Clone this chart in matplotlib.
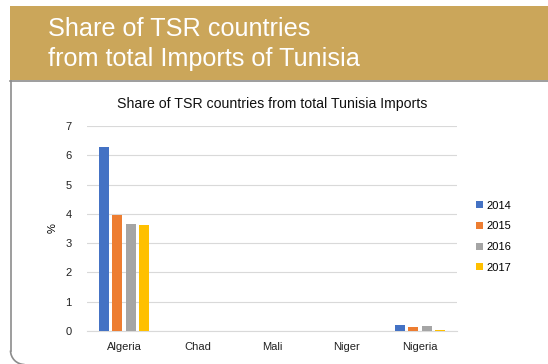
import matplotlib
matplotlib.use("Agg")
import matplotlib.pyplot as plt
import numpy as np
from matplotlib.patches import Rectangle, Arc

plt.rcParams['font.family'] = ['Liberation Sans', 'DejaVu Sans']

countries = ["Algeria", "Chad", "Mali", "Niger", "Nigeria"]
years = ["2014", "2015", "2016", "2017"]
share_2014 = [6.3, 0, 0, 0, 0.2]
share_2015 = [3.95, 0, 0, 0, 0.14]
share_2016 = [3.65, 0, 0, 0, 0.18]
share_2017 = [3.62, 0, 0, 0, 0.02]
series = [share_2014, share_2015, share_2016, share_2017]
colors = ["#4472C4", "#ED7D31", "#A5A5A5", "#FFC000"]
yticks = [0, 1, 2, 3, 4, 5, 6, 7]

W, H = 548, 364
fig = plt.figure(figsize=(W / 100, H / 100), dpi=100)

# page decoration: gold banner and a panel outline rounded at the bottom left
bg = fig.add_axes([0, 0, 1, 1])
bg.set_xlim(0, W)
bg.set_ylim(H, 0)
bg.axis("off")
edge = "#8C8C8C"
r = 14
bottom = 364.5
bg.add_patch(Rectangle((10, 6), 560, 74, facecolor="#CBA65A", edgecolor="none"))
bg.plot([10, W], [80.5, 80.5], color=edge, lw=1.2)
bg.plot([10.5, 10.5], [80.5, bottom - r], color=edge, lw=1.2)
bg.add_patch(Arc((10.5 + r, bottom - r), 2 * r, 2 * r, theta1=90, theta2=180,
                 color=edge, lw=1.2))
bg.plot([10.5 + r, W], [bottom, bottom], color=edge, lw=1.2)
bg.text(48, 29, "Share of TSR countries", color="white", fontsize=18.2,
        va="center", ha="left")
bg.text(48, 59, "from total Imports of Tunisia", color="white", fontsize=18.2,
        va="center", ha="left")

# bar chart
ax = fig.add_axes([87 / W, 1 - 331 / H, (457 - 87) / W, (331 - 126) / H])
x = np.arange(len(countries))
width = 0.135
step = 0.18
for i, (vals, c, yr) in enumerate(zip(series, colors, years)):
    ax.bar(x + (i - 1.5) * step, vals, width=width, color=c, label=yr, zorder=3)

ax.set_xlim(-0.5, len(countries) - 0.5)
ax.set_ylim(0, 7)
ax.set_yticks(yticks)
ax.set_xticks(x)
ax.set_xticklabels(countries)
ax.tick_params(axis="both", length=0, labelsize=8, colors="#222222")
ax.tick_params(axis="y", pad=11)
ax.tick_params(axis="x", pad=8)
ax.yaxis.grid(True, color="#D9D9D9", lw=0.8, zorder=0)
for s in ["top", "right", "left"]:
    ax.spines[s].set_visible(False)
ax.spines["bottom"].set_color("#D9D9D9")
ax.set_ylabel("%", fontsize=8, labelpad=6)
ax.set_title("Share of TSR countries from total Tunisia Imports", fontsize=10.2,
             pad=13, color="#111111")

leg = ax.legend(loc="center left", bbox_to_anchor=(1.025, 0.46), frameon=False,
                fontsize=8, handlelength=0.6, handleheight=0.6,
                handletextpad=0.35, labelspacing=0.95)

fig.savefig("out.png", dpi=100)
